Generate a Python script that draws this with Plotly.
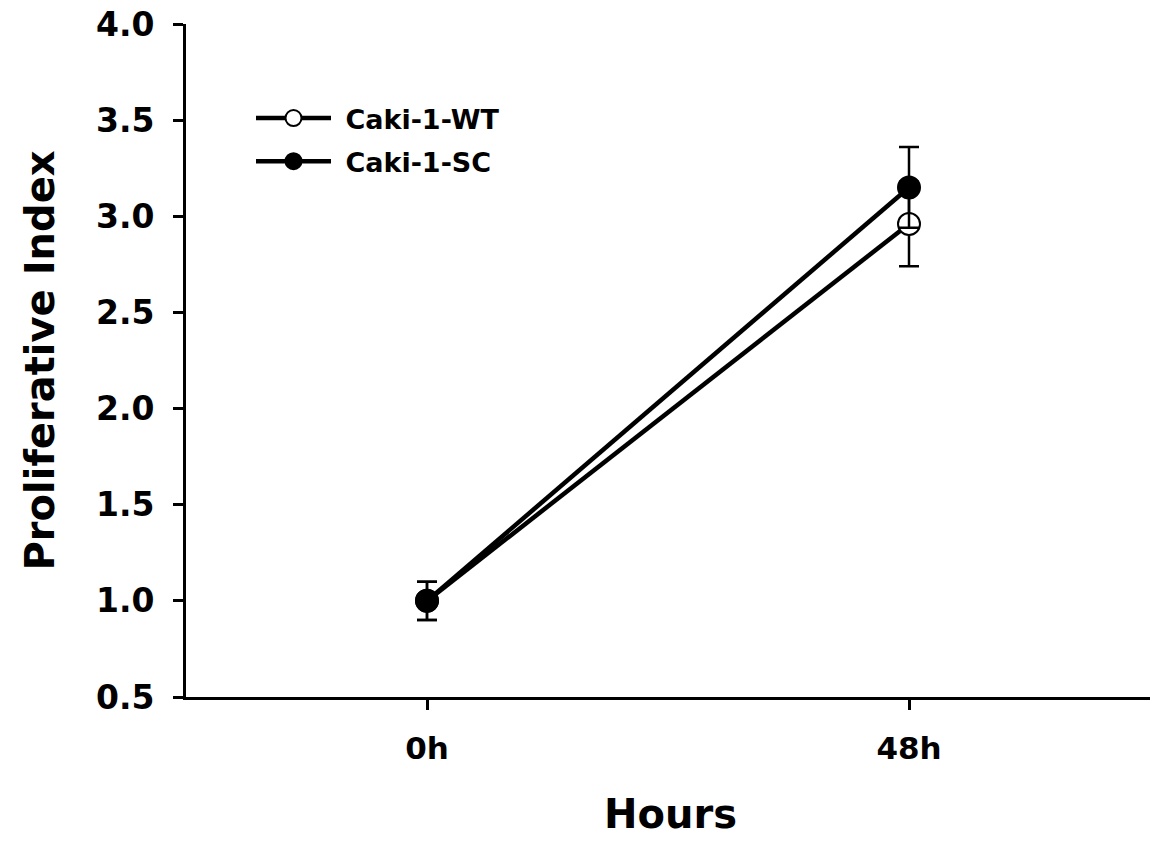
import plotly.graph_objects as go

hours = ["0h", "48h"]
wt_values = [1.00, 2.96]
wt_errors = [0.10, 0.22]
sc_values = [1.00, 3.15]
sc_errors = [0.10, 0.21]
y_ticks = [0.5, 1.0, 1.5, 2.0, 2.5, 3.0, 3.5, 4.0]
y_tick_labels = ["0.5", "1.0", "1.5", "2.0", "2.5", "3.0", "3.5", "4.0"]

FONT = "DejaVu Sans"
W, H = 1159, 842
L, R, T, B = 186, 9, 24, 145
PW, PH = W - L - R, H - T - B


def px_x(x):
    return (x - L) / PW


def px_y(y):
    return 1 - (y - T) / PH


fig = go.Figure()
fig.add_trace(go.Scatter(
    x=[0, 1], y=wt_values, name=" Caki-1-WT", mode="lines+markers", legendgroup="wt",
    line=dict(color="black", width=4.5),
    marker=dict(symbol="circle", size=22, color="white", line=dict(color="black", width=2)),
    error_y=dict(type="data", array=wt_errors, visible=True, color="black", thickness=2.5, width=10),
))
fig.add_trace(go.Scatter(
    x=[0, 1], y=sc_values, name=" Caki-1-SC", mode="lines+markers", legendgroup="sc",
    line=dict(color="black", width=4.5),
    marker=dict(symbol="circle", size=22, color="black", line=dict(color="black", width=2)),
    error_y=dict(type="data", array=sc_errors, visible=True, color="black", thickness=2.5, width=10),
))

fig.update_layout(
    width=W, height=H,
    margin=dict(l=L, r=R, t=T, b=B, autoexpand=False),
    plot_bgcolor="white", paper_bgcolor="white",
    font=dict(family=FONT, color="black"),
    showlegend=True,
    legend=dict(x=px_x(251), y=px_y(94), xanchor="left", yanchor="top",
                font=dict(family=FONT, size=27, color="black", weight="bold"),
                itemwidth=75, bgcolor="rgba(0,0,0,0)", tracegroupgap=5),
    xaxis=dict(
        range=[-0.5, 1.5], tickmode="array", tickvals=[0, 1], ticktext=hours,
        showline=True, linecolor="black", linewidth=3, mirror=False,
        ticks="outside", ticklen=10, tickwidth=3, tickcolor="black",
        showgrid=False, zeroline=False, automargin=False, ticklabelstandoff=12,
        tickfont=dict(family=FONT, size=31, color="black", weight="bold"),
    ),
    yaxis=dict(
        range=[0.5, 4.0], tickmode="array", tickvals=y_ticks, ticktext=y_tick_labels,
        showline=True, linecolor="black", linewidth=3, mirror=False,
        ticks="outside", ticklen=10, tickwidth=3, tickcolor="black",
        showgrid=False, zeroline=False, automargin=False, ticklabelstandoff=12,
        tickfont=dict(family=FONT, size=33, color="black", weight="bold"),
    ),
    annotations=[
        dict(text="Proliferative Index", textangle=-90, showarrow=False,
             xref="paper", yref="paper", x=px_x(39), y=0.5,
             xanchor="center", yanchor="middle",
             font=dict(family=FONT, size=40, color="black", weight="bold")),
        dict(text="Hours", showarrow=False,
             xref="paper", yref="paper", x=px_x(670), y=px_y(814),
             xanchor="center", yanchor="middle",
             font=dict(family=FONT, size=40, color="black", weight="bold")),
    ],
)

fig.write_html("out.html", config={"displayModeBar": False},
               post_script="document.body.style.margin='0px';")
